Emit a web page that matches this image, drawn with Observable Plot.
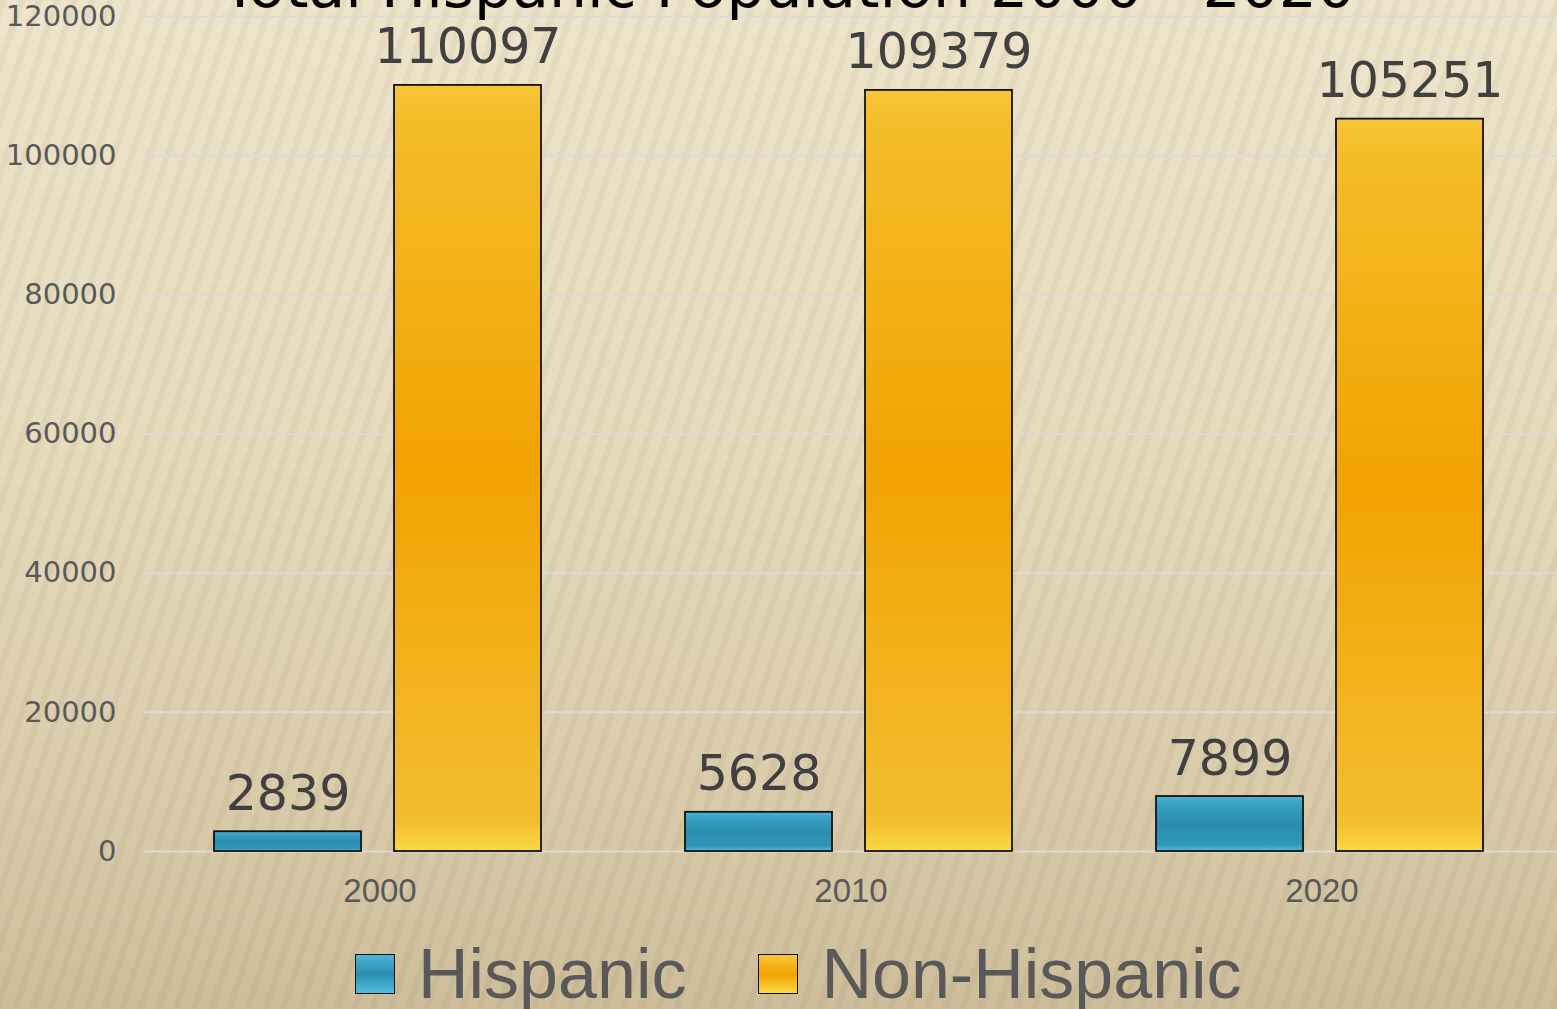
<!DOCTYPE html>
<html>
<head>
<meta charset="utf-8">
<script src="https://cdn.jsdelivr.net/npm/d3@7"></script>
<script src="https://cdn.jsdelivr.net/npm/@observablehq/plot@0.6"></script>
<style>
html, body { margin: 0; padding: 0; width: 1557px; height: 1009px; overflow: hidden; }
body {
  position: relative;
  font-family: "DejaVu Sans", sans-serif;
  background:
    repeating-linear-gradient(108deg, rgba(120,95,50,0.07) 0px, rgba(120,95,50,0.07) 5px, rgba(255,255,255,0) 8px, rgba(255,255,255,0) 17px),
    linear-gradient(to bottom, #ede4cb 0%, #e6dbbd 45%, #d9cbaa 80%, #cdbd9b 100%);
}
#title { position: absolute; top: -44px; left: 0; width: 1557px; text-align: center; font-size: 60px; line-height: 60px; color: #000; white-space: nowrap; padding-left: 20px; box-sizing: border-box; }
#chart { position: absolute; top: 0; left: 0; }
#legend { position: absolute; top: 939px; left: 355px; display: flex; align-items: center; font-family: "Liberation Sans", Arial, sans-serif; font-size: 70px; line-height: 70px; color: #595959; white-space: nowrap; }
.sw { width: 38px; height: 38px; border: 1.5px solid #111; margin-right: 23px; }
.item { display: flex; align-items: center; margin-right: 72px; }
</style>
</head>
<body>
<div id="chart"></div>
<div id="title">Total Hispanic Population 2000 - 2020</div>
<div id="legend"></div>
<script>
const years = ["2000", "2010", "2020"];
const series = ["Hispanic", "Non-Hispanic"];
const hispanic = [2839, 5628, 7899];
const nonHispanic = [110097, 109379, 105251];
const yTicks = [0, 20000, 40000, 60000, 80000, 100000, 120000];
const seriesColors = ["url(#gHisp)", "url(#gNon)"];

// gradient definitions
const defsSvg = d3.select("body").append("svg").attr("width", 0).attr("height", 0).style("position", "absolute");
const defs = defsSvg.append("defs");
function grad(id, stops) {
  const g = defs.append("linearGradient").attr("id", id).attr("x1", 0).attr("y1", 0).attr("x2", 0).attr("y2", 1);
  stops.forEach(([o, c]) => g.append("stop").attr("offset", o).attr("stop-color", c));
}
grad("gHisp", [[0, "#4db6d8"], [0.12, "#3aa3c6"], [0.5, "#2a8daf"], [0.88, "#2f97ba"], [1, "#52bde0"]]);
grad("gNon", [[0, "#f7c63a"], [0.04, "#f4bd2a"], [0.5, "#f1a302"], [0.96, "#f3bd30"], [1, "#fbd844"]]);

const data = years.flatMap((y, i) => [
  {year: y, group: series[0], value: hispanic[i]},
  {year: y, group: series[1], value: nonHispanic[i]}
]);

const chart = Plot.plot({
  width: 1557,
  height: 920,
  marginTop: 16,
  marginBottom: 69,
  marginLeft: 144,
  marginRight: 0,
  style: {background: "transparent", fontFamily: "DejaVu Sans", overflow: "visible"},
  fx: {domain: years, padding: 0, label: null, axis: null},
  x: {domain: series, paddingInner: 33 / 180, paddingOuter: 0.4, align: 0.486, axis: null},
  y: {domain: [0, 120000], label: null},
  color: {domain: series, range: seriesColors},
  marks: [
    Plot.gridY(yTicks, {stroke: "#dcdad4", strokeOpacity: 1, strokeWidth: 2}),
    Plot.axisY(yTicks, {tickSize: 0, tickPadding: 28, fontSize: 29, fill: "#595959", label: null, tickFormat: d => String(d)}),
    Plot.barY(data, {fx: "year", x: "group", y: "value", fill: "group", stroke: "#111", strokeWidth: 1.8}),
    Plot.text(data, {fx: "year", x: "group", y: "value", text: d => String(d.value), dy: -22, lineAnchor: "bottom", fontSize: 49, fill: "#404040", fontFamily: "DejaVu Sans"}),
    Plot.axisFx({anchor: "bottom", tickSize: 0, tickPadding: 27, fontSize: 33, fill: "#595959", label: null, fontFamily: "Liberation Sans"})
  ]
});
document.getElementById("chart").appendChild(chart);

// legend
const legend = d3.select("#legend");
series.forEach((s, i) => {
  const it = legend.append("div").attr("class", "item");
  it.append("div").attr("class", "sw").style("background", i === 0
    ? "linear-gradient(to bottom, #4db6d8, #2a8daf 50%, #52bde0)"
    : "linear-gradient(to bottom, #f7c63a, #f1a302 50%, #fbd844)");
  it.append("span").text(s);
});
</script>
</body>
</html>
